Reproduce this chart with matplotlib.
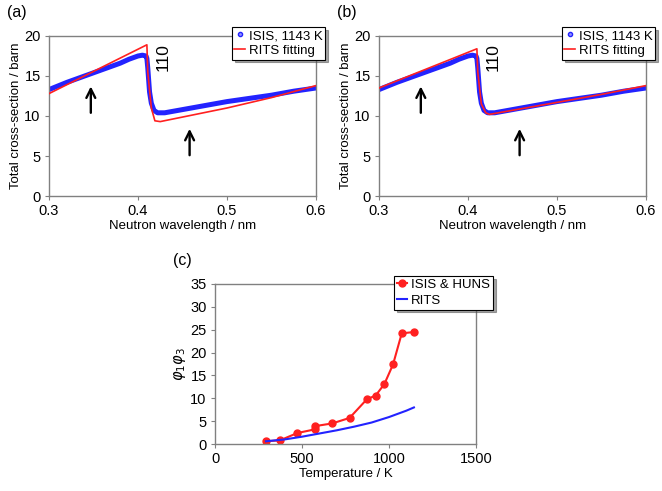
import matplotlib
matplotlib.use("Agg")
import matplotlib.pyplot as plt
from matplotlib.lines import Line2D

plt.rcParams['font.family'] = ['Liberation Sans', 'DejaVu Sans']

# --- data: spectra (wavelength nm, cross-section barn) ---
wl_isis = [0.300, 0.320, 0.340, 0.360, 0.380, 0.390, 0.400, 0.405, 0.409,
           0.410, 0.411, 0.412, 0.413, 0.415, 0.418, 0.422, 0.430, 0.450,
           0.475, 0.500, 0.525, 0.550, 0.575, 0.600]
sig_isis = [13.3, 14.2, 15.0, 15.8, 16.6, 17.1, 17.5, 17.6, 17.5,
            17.2, 16.0, 14.5, 13.0, 11.6, 10.7, 10.4, 10.4, 10.8,
            11.3, 11.8, 12.2, 12.6, 13.1, 13.5]

wl_fit_a = [0.300, 0.410, 0.411, 0.415, 0.419, 0.425, 0.500, 0.550, 0.600]
sig_fit_a = [12.8, 18.9, 15.5, 11.0, 9.4, 9.3, 11.0, 12.3, 13.8]

wl_fit_b = [0.300, 0.410, 0.411, 0.415, 0.420, 0.424, 0.500, 0.550, 0.600]
sig_fit_b = [13.5, 18.4, 15.5, 11.5, 10.4, 10.2, 11.7, 12.7, 13.8]

# arrows (x, tail y, head y)
arrow_x = [0.347, 0.458]
arrow_tail = [10.4, 5.1]
arrow_head = [13.7, 8.4]

# --- data: phi1*phi3 vs temperature ---
temp_exp = [293, 373, 473, 573, 573, 673, 773, 873, 923, 973, 1023, 1073, 1143]
phi_exp = [0.6, 0.8, 2.4, 3.2, 3.9, 4.5, 5.7, 9.8, 10.6, 13.1, 17.4, 24.2, 24.5]
temp_rits = [293, 400, 500, 600, 700, 800, 900, 1000, 1100, 1143]
phi_rits = [0.6, 1.0, 1.6, 2.3, 3.0, 3.8, 4.7, 5.9, 7.3, 8.0]

grey = '#808080'
blue = '#2323ff'
red = '#ff2020'

fig = plt.figure(figsize=(6.62, 4.91), dpi=100)


def style_axes(ax):
    for s in ax.spines.values():
        s.set_color(grey)
        s.set_linewidth(1.0)
    ax.tick_params(direction='out', length=3, color=grey, labelsize=10.5, pad=3)


def spectrum_panel(rect, wl_fit, sig_fit, letter):
    ax = fig.add_axes(rect)
    ax.plot(wl_isis, sig_isis, color=blue, lw=3.6, solid_capstyle='round', zorder=2)
    ax.plot(wl_fit, sig_fit, color=red, lw=1.2, zorder=3)
    for x, t, h in zip(arrow_x, arrow_tail, arrow_head):
        ax.annotate('', xy=(x, h), xytext=(x, t),
                    arrowprops=dict(arrowstyle='->', color='black', lw=1.7,
                                    mutation_scale=16, shrinkA=0, shrinkB=0))
    ax.text(0.428, 17.4, '110', rotation=90, fontsize=12.5, ha='center', va='center')
    ax.set_xlim(0.3, 0.6)
    ax.set_ylim(0, 20)
    ax.set_xticks([0.3, 0.4, 0.5, 0.6])
    ax.set_yticks([0, 5, 10, 15, 20])
    ax.set_xlabel('Neutron wavelength / nm', fontsize=9.5, labelpad=1)
    ax.set_ylabel('Total cross-section / barn', fontsize=9.5, labelpad=2)
    style_axes(ax)
    handles = [Line2D([], [], marker='o', ms=3, color=blue, mfc='#9090ff', lw=0),
               Line2D([], [], color=red, lw=1.2)]
    leg = ax.legend(handles, ['ISIS, 1143 K', 'RITS fitting'], loc='upper right',
                    bbox_to_anchor=(1.035, 1.055), fontsize=9.5, frameon=True,
                    fancybox=False, shadow=True, edgecolor='black', framealpha=1,
                    borderpad=0.2, handlelength=0.8, handletextpad=0.3,
                    labelspacing=0.2, borderaxespad=0)
    leg.get_frame().set_linewidth(0.8)
    fig.text(rect[0] - 0.064, 0.975, letter, fontsize=11.5, va='center', ha='left')
    return ax


spectrum_panel([0.074, 0.6008, 0.4033, 0.3259], wl_fit_a, sig_fit_a, '(a)')
spectrum_panel([0.5725, 0.6008, 0.4033, 0.3259], wl_fit_b, sig_fit_b, '(b)')

ax = fig.add_axes([0.3248, 0.0957, 0.3943, 0.3259])
ax.plot(temp_exp, phi_exp, color=red, lw=1.5, marker='o', ms=5, label='ISIS & HUNS')
ax.plot(temp_rits, phi_rits, color=blue, lw=1.5, label='RITS')
ax.set_xlim(0, 1500)
ax.set_ylim(0, 35)
ax.set_xticks([0, 500, 1000, 1500])
ax.set_yticks(range(0, 36, 5))
ax.set_xlabel('Temperature / K', fontsize=9.5, labelpad=1)
ax.set_ylabel(r'$\varphi_1\varphi_3$', fontsize=10.5, labelpad=2)
style_axes(ax)
leg = ax.legend(loc='upper right', bbox_to_anchor=(1.065, 1.05), fontsize=9.5,
                frameon=True, fancybox=False, shadow=True, edgecolor='black',
                framealpha=1, borderpad=0.2, handlelength=0.8, handletextpad=0.3,
                labelspacing=0.3, borderaxespad=0)
leg.get_frame().set_linewidth(0.8)
fig.text(0.262, 0.47, '(c)', fontsize=11.5, va='center', ha='left')

fig.savefig('out.png', dpi=100)
